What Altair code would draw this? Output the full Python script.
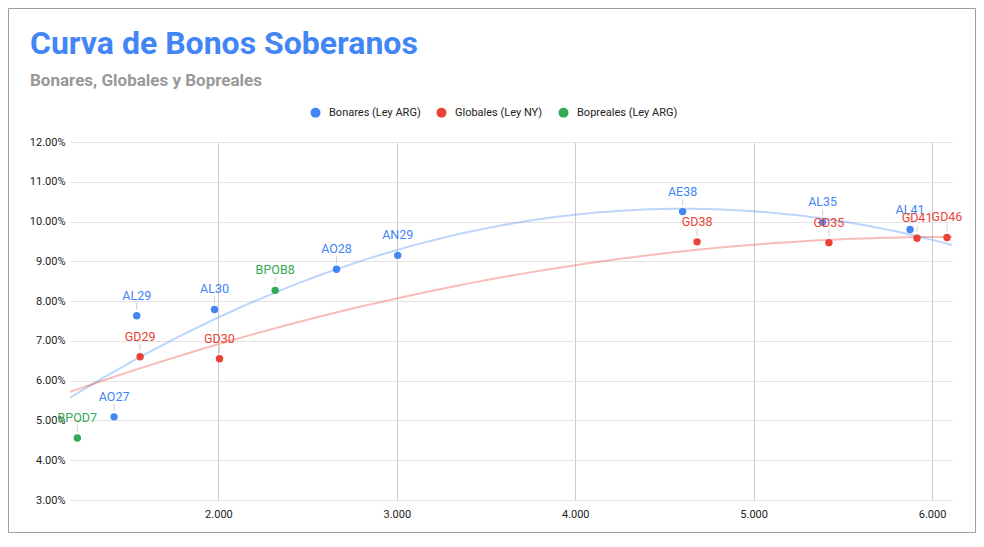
import altair as alt
import pandas as pd

# ---- data ----
bonares_tickers = ["AO27", "AL29", "AL30", "AO28", "AN29", "AE38", "AL35", "AL41"]
bonares_dur = [1415, 1542, 1978, 2662, 3005, 4602, 5387, 5877]
bonares_tir = [5.09, 7.63, 7.79, 8.80, 9.15, 10.25, 9.98, 9.80]

globales_tickers = ["GD29", "GD30", "GD38", "GD35", "GD41", "GD46"]
globales_dur = [1561, 2006, 4683, 5422, 5916, 6084]
globales_tir = [6.60, 6.55, 9.49, 9.47, 9.58, 9.60]

bopreales_tickers = ["BPOD7", "BPOB8"]
bopreales_dur = [1209, 2318]
bopreales_tir = [4.56, 8.27]

series_names = ["Bonares (Ley ARG)", "Globales (Ley NY)", "Bopreales (Ley ARG)"]
series_colors = ["#4285F4", "#EA4335", "#34A853"]

x_ticks = [2000, 3000, 4000, 5000, 6000]
y_ticks = [3, 4, 5, 6, 7, 8, 9, 10, 11, 12]
x_domain = [1168, 6112]
y_domain = [3, 12]

frames = []
for name, tk, du, ti in [
    (series_names[0], bonares_tickers, bonares_dur, bonares_tir),
    (series_names[1], globales_tickers, globales_dur, globales_tir),
    (series_names[2], bopreales_tickers, bopreales_dur, bopreales_tir),
]:
    frames.append(pd.DataFrame({"serie": name, "ticker": tk, "dur": du, "tir": ti}))
df = pd.concat(frames, ignore_index=True)

W, H = 882, 358
PL, PT, PR, PB = 62, 134, 24, 33

color_scale = alt.Scale(domain=series_names, range=series_colors)
xs = alt.Scale(domain=x_domain, nice=False, zero=False)
ys = alt.Scale(domain=y_domain, nice=False, zero=False)

x_axis = alt.Axis(values=x_ticks, tickCount=30, title=None,
                  labelExpr="replace(format(datum.value, ','), ',', '.')",
                  gridColor="#cccccc", labelPadding=8)
y_axis = alt.Axis(values=y_ticks, tickCount=30, title=None,
                  labelExpr="format(datum.value, '.2f') + '%'",
                  gridColor="#e3e3e3", labelPadding=5)

base = alt.Chart(df)

border = alt.Chart(pd.DataFrame({"a": [0]})).mark_rect(
    fill=None, stroke="#9e9e9e", strokeWidth=1
).encode(
    x=alt.value(-PL + 0.5), x2=alt.value(W + PR - 0.5),
    y=alt.value(-PT + 0.5), y2=alt.value(H + PB - 0.5)
)

trend_b = base.transform_filter(alt.datum.serie == series_names[0]).transform_regression(
    "dur", "tir", method="poly", order=2, extent=x_domain
).mark_line(color="#4285F4", strokeWidth=2, opacity=0.35, clip=True).encode(
    x=alt.X("dur:Q", scale=xs, axis=x_axis),
    y=alt.Y("tir:Q", scale=ys, axis=y_axis),
)

trend_g = base.transform_filter(alt.datum.serie == series_names[1]).transform_regression(
    "dur", "tir", method="poly", order=2, extent=x_domain
).mark_line(color="#EA4335", strokeWidth=2, opacity=0.35, clip=True).encode(
    x=alt.X("dur:Q", scale=xs, axis=x_axis),
    y=alt.Y("tir:Q", scale=ys, axis=y_axis),
)

leaders = base.mark_rule(color="#d0d0d0", strokeWidth=1, yOffset=-6, y2Offset=-13).encode(
    x=alt.X("dur:Q", scale=xs, axis=x_axis),
    y=alt.Y("tir:Q", scale=ys, axis=y_axis),
    y2="tir:Q",
)

points = base.mark_circle(size=55, opacity=1).encode(
    x=alt.X("dur:Q", scale=xs, axis=x_axis),
    y=alt.Y("tir:Q", scale=ys, axis=y_axis),
    color=alt.Color("serie:N", scale=color_scale, sort=series_names,
                    legend=alt.Legend(title=None, orient="none", legendX=240, legendY=-35,
                                      direction="horizontal", symbolType="circle",
                                      symbolSize=100, symbolOpacity=1, symbolStrokeWidth=0,
                                      labelFontSize=11, labelFont="Roboto", labelColor="#222222",
                                      labelOffset=8, columnPadding=15)),
)

labels = base.mark_text(dy=-20, fontSize=12.5, font="Roboto", align="center", baseline="middle").encode(
    x=alt.X("dur:Q", scale=xs, axis=x_axis),
    y=alt.Y("tir:Q", scale=ys, axis=y_axis),
    text="ticker:N",
    color=alt.Color("serie:N", scale=color_scale, legend=None),
)

chart = alt.layer(border, trend_b, trend_g, leaders, points, labels).properties(
    width=W, height=H,
    padding={"left": PL, "top": PT, "right": PR, "bottom": PB},
    autosize=alt.AutoSizeParams(type="none"),
    background="white",
    title=alt.TitleParams(
        text="Curva de Bonos Soberanos",
        subtitle="Bonares, Globales y Bopreales",
        anchor="start", frame="group", dx=-40, dy=82, offset=0,
        font="Roboto", fontSize=32, fontWeight="bold", color="#4285F4",
        subtitleFont="Roboto", subtitleFontSize=17, subtitleFontWeight="bold",
        subtitleColor="#999999", subtitlePadding=12,
    ),
).configure_view(stroke=None).configure_axis(
    domain=False, ticks=False, labelFont="Roboto", labelFontSize=11, labelColor="#222222",
    gridWidth=1,
)

chart.save("out.html", embed_options={"renderer": "svg", "actions": False})
